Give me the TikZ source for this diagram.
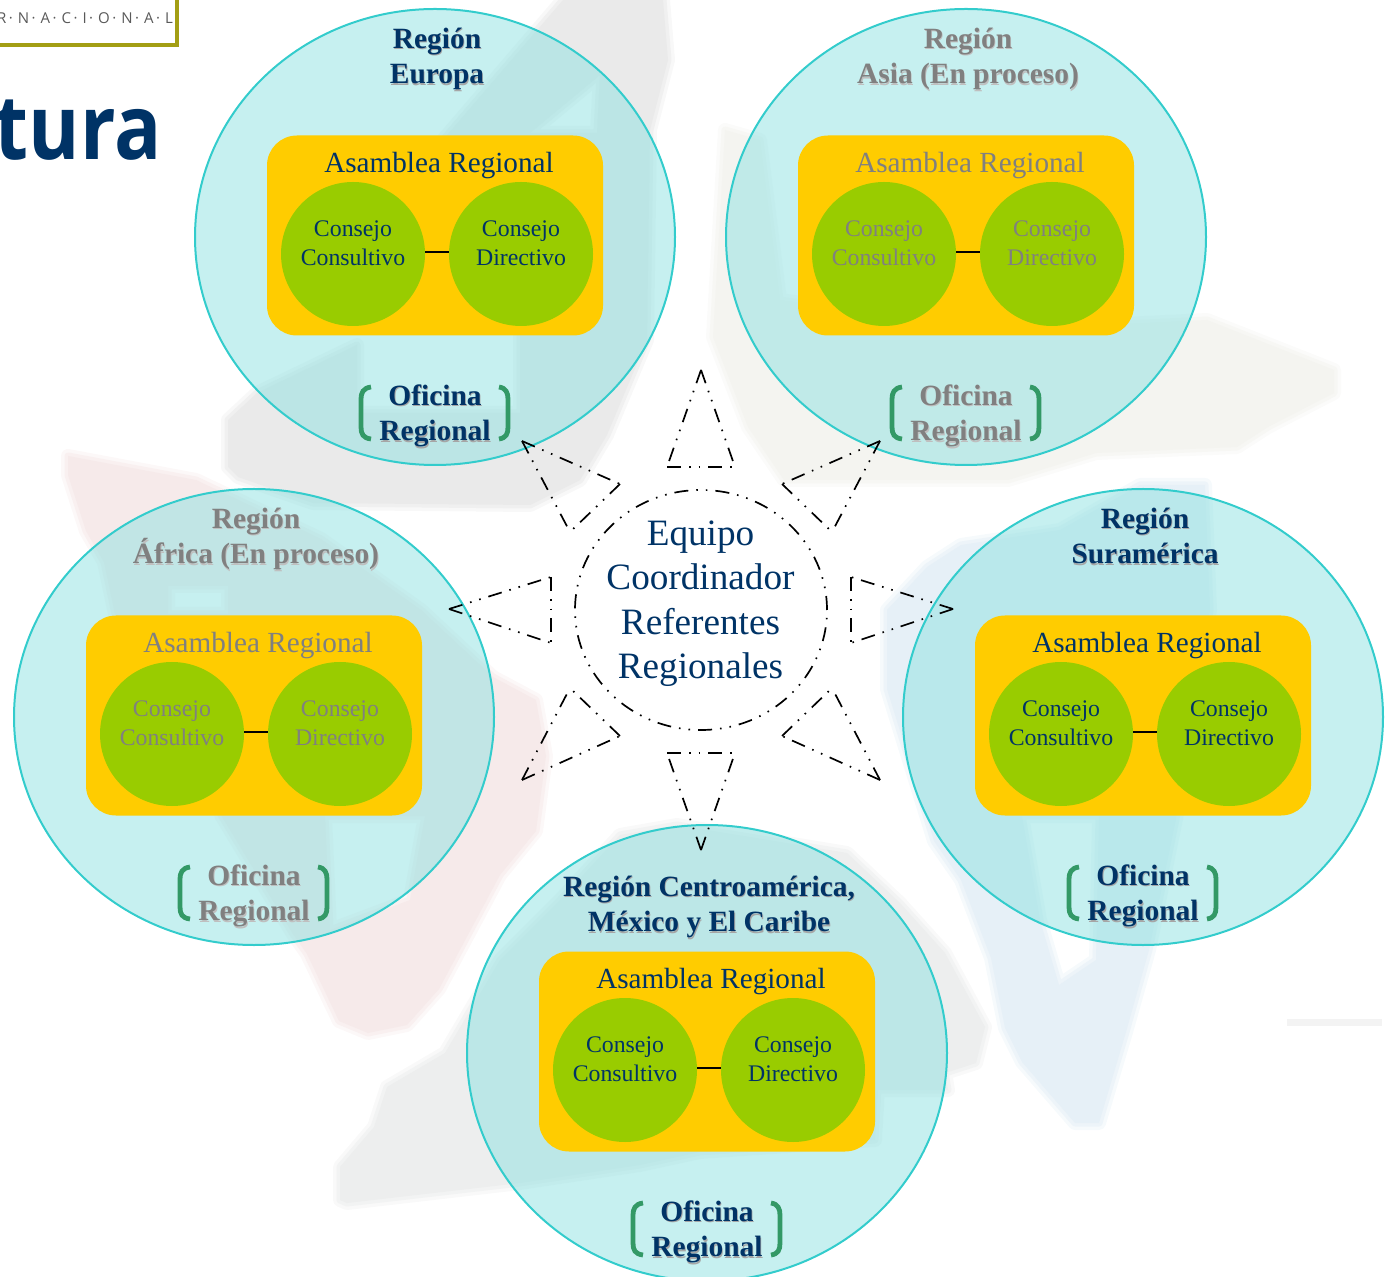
\documentclass[tikz,border=0pt]{standalone}
\usepackage{fontspec}
\setmainfont{Liberation Serif}
\newfontfamily\titlefont{Open Sans}
\newfontfamily\headfont[FakeStretch=0.87]{Open Sans}
\usetikzlibrary{shapes.geometric}
\definecolor{navy}{HTML}{003366}
\definecolor{regfill}{HTML}{8DE1E1}
\definecolor{regline}{HTML}{33CCCC}
\definecolor{gold}{HTML}{FFCC00}
\definecolor{leaf}{HTML}{99CC00}
\definecolor{brk}{HTML}{339966}
\definecolor{olive}{HTML}{A39E14}
\definecolor{wgray}{HTML}{EAEAEA}
\definecolor{wpale}{HTML}{F4F4F0}
\definecolor{wteal}{HTML}{EDEEEE}
\definecolor{wred}{HTML}{F6EAEA}
\definecolor{wblue}{HTML}{E6F0F7}
\definecolor{wstripe}{HTML}{F3F3F3}
\tikzset{
 regionc/.style={ellipse,draw=regline,line width=1pt,fill=regfill,fill opacity=0.5,inner sep=0pt,minimum width=240pt,minimum height=228pt},
 assem/.style={rectangle,rounded corners=15pt,fill=gold,inner sep=0pt,minimum width=168pt,minimum height=100pt},
 consejo/.style={circle,fill=leaf,inner sep=0pt,minimum size=72pt},
 link/.style={line width=1pt,draw=black},
 ttl/.style={align=center,font=\fontsize{14.7}{17.6}\selectfont\bfseries,inner sep=0pt},
 asm/.style={font=\fontsize{14.6}{18}\selectfont,inner sep=0pt},
 cons/.style={align=center,font=\fontsize{11.9}{14.5}\selectfont,inner sep=0pt},
 bracket/.style={draw=brk,line width=2.4pt},
 ray/.style={draw=black,line width=0.85pt,dash pattern=on 7pt off 4pt on 0.8pt off 4pt on 0.8pt off 4pt},
}
% soft-edged watermark patch: #1 colour, #2 path
\newcommand{\wmblob}[2]{%
 \draw[even odd rule,line join=round,line width=7pt,draw=#1!35!white,fill=#1!35!white] #2;
 \draw[even odd rule,line join=round,line width=3.5pt,draw=#1!70!white,fill=#1!70!white] #2;
 \fill[even odd rule,#1] #2;
}
% #1 name #2 x #3 y #4 text colour #5 shadow colour #6 title offset #7 title
\newcommand{\regionblock}[7]{%
 \node[regionc] (#1) at (#2,#3) {};
 \node[assem] (#1a) at (#2,#3-1.5) {};
 \node[consejo] (#1l) at (#2-82,#3+17) {};
 \node[consejo] (#1r) at (#2+86,#3+17) {};
 \draw[link] ([yshift=1pt]#1l.east) -- ([yshift=1pt]#1r.west);
 \node[asm,text=#4] (#1t) at (#2+4,#3-71) {Asamblea Regional};
 \node[cons,text=#4] (#1lt) at (#2-82,#3+6) {Consejo\\Consultivo};
 \node[cons,text=#4] (#1rt) at (#2+86,#3+6) {Consejo\\Directivo};
 \node[ttl,text=#5] (#1hs) at (#2+2.8,#3+#6+4.4) {#7\vphantom{(}};
 \node[ttl,text=#4] (#1h) at (#2+2,#3+#6+3) {#7\vphantom{(}};
 \node[ttl,text=#5] (#1os) at (#2+0.8,#3+180.4) {Oficina\\Regional};
 \node[ttl,text=#4] (#1o) at (#2,#3+179) {Oficina\\Regional};
 \draw[bracket] (#2-64,#3+150) .. controls (#2-72,#3+151) and (#2-74,#3+156) .. (#2-74,#3+162)
   -- (#2-74,#3+190) .. controls (#2-74,#3+197) and (#2-72,#3+201) .. (#2-64,#3+202);
 \draw[bracket] (#2+64,#3+150) .. controls (#2+71,#3+151) and (#2+73,#3+156) .. (#2+73,#3+162)
   -- (#2+73,#3+190) .. controls (#2+73,#3+197) and (#2+71,#3+201) .. (#2+64,#3+202);
}
% #1 name #2 apex #3 corner #4 corner
\newcommand{\rayshape}[4]{%
 \coordinate (#1p) at (#2);
 \coordinate (#1a) at (#3);
 \coordinate (#1b) at (#4);
 \draw[ray] (#1p) -- (#1a);
 \draw[ray] (#1p) -- (#1b);
 \draw[ray] (#1a) -- (#1b);
}
\begin{document}
\begin{tikzpicture}[x=0.5pt,y=-0.5pt]
\useasboundingbox (0,0) rectangle (1386,1277);
\begin{scope}
\clip (0,0) rectangle (1386,1277);
% watermark
\wmblob{wpale}{(725,130) -- (713,337) -- (748,427) -- (784,480) -- (1008,480) -- (1096,453) -- (1237,447) -- (1268,427) -- (1334,393) -- (1334,370) -- (1207,320) -- (1000,330) -- (780,300) -- (760,140) -- cycle}
\wmblob{wblue}{(887,610) -- (887,689) -- (934,841) -- (961,880) -- (991,958) -- (1005,1028) -- (1022,1062) -- (1075,1123) -- (1099,1123) -- (1126,1032) -- (1149,950) -- (1176,819) -- (1210,610) -- (1205,485) -- (1140,485) -- (1060,530) -- (961,545) -- (927,567) -- cycle (1022,816) -- (1099,816) -- (1096,960) -- (1059,985) -- (1040,920) -- cycle}
\wmblob{wteal}{(340,1200) -- (340,1167) -- (374,1127) -- (387,1087) -- (445,1053) -- (500,960) -- (560,900) -- (620,835) -- (677,825) -- (847,853) -- (900,903) -- (945,953) -- (985,1027) -- (976,1063) -- (945,1073) -- (948,1090) -- (878,1090) -- (875,1140) -- (700,1152) -- (640,1165) -- (520,1183) -- (347,1203) -- cycle}
\wmblob{wred}{(68,456) -- (196,480) -- (321,539) -- (421,610) -- (493,677) -- (536,700) -- (546,756) -- (536,831) -- (500,875) -- (439,989) -- (407,1025) -- (368,1033) -- (339,1021) -- (307,954) -- (293,934) -- (221,815) -- (221,700) -- (115,614) -- (104,562) -- (86,531) -- (68,475) -- cycle (325,816) -- (425,816) -- (410,900) -- (330,930) -- cycle (168,586) -- (228,586) -- (228,614) -- (168,614) -- cycle}
\wmblob{wgray}{(563,0) -- (663,0) -- (668,60) -- (650,130) -- (647,340) -- (607,435) -- (580,480) -- (530,505) -- (313,503) -- (238,477) -- (228,467) -- (228,420) -- (257,393) -- (357,345) -- (357,413) -- (520,413) -- (520,140) -- (443,140) -- cycle (600,75) -- (530,133) -- (597,133) -- cycle}
\fill[wstripe] (1287,1019) rectangle (1382,1026);
% logo box and heading
\draw[olive,line width=1.6pt] (-10,45) -- (177,45) -- (177,-5);
\node[inner sep=0pt,text=black!65,font=\fontsize{7.5}{8}\titlefont] (logotext) at (85,18) {R\,·\,\,N\,·\,\,A\,·\,\,C\,·\,\,I\,·\,\,O\,·\,\,N\,·\,\,A\,·\,\,L};
\node[anchor=base east,inner sep=0pt,text=navy,font=\fontsize{45}{45}\headfont\bfseries] (heading) at (162,160) {tura};
% regions
\regionblock{eu}{435}{237}{navy}{black!35}{-181}{Región\\Europa}
\regionblock{as}{966}{237}{black!50}{black!25}{-181}{Región\\Asia (En proceso)}
\regionblock{af}{254}{717}{black!50}{black!25}{-181}{Región\\África (En proceso)}
\regionblock{su}{1143}{717}{navy}{black!35}{-181}{Región\\Suramérica}
\regionblock{ce}{707}{1053}{navy}{black!35}{-149}{Región Centroamérica,\\México y El Caribe}
% centre
\node[ellipse,ray,inner sep=0pt,minimum width=126pt,minimum height=120pt] (core) at (701,610) {};
\node[align=center,inner sep=0pt,text=navy,font=\fontsize{18.6}{22.2}\selectfont] (coret) at (700.5,603.5) {Equipo\\Coordinador\\Referentes\\Regionales};
\rayshape{n}{701,370}{667,467}{735,467}
\rayshape{ne}{880,441}{782,484}{832,532}
\rayshape{e}{953,609}{851,577}{851,643}
\rayshape{se}{880,780}{782,736}{832,688}
\rayshape{s}{701,850}{667,753}{735,753}
\rayshape{sw}{522,780}{620,736}{570,688}
\rayshape{w}{449,609}{551,577}{551,643}
\rayshape{nw}{522,441}{620,484}{570,532}
\end{scope}
\end{tikzpicture}
\end{document}
